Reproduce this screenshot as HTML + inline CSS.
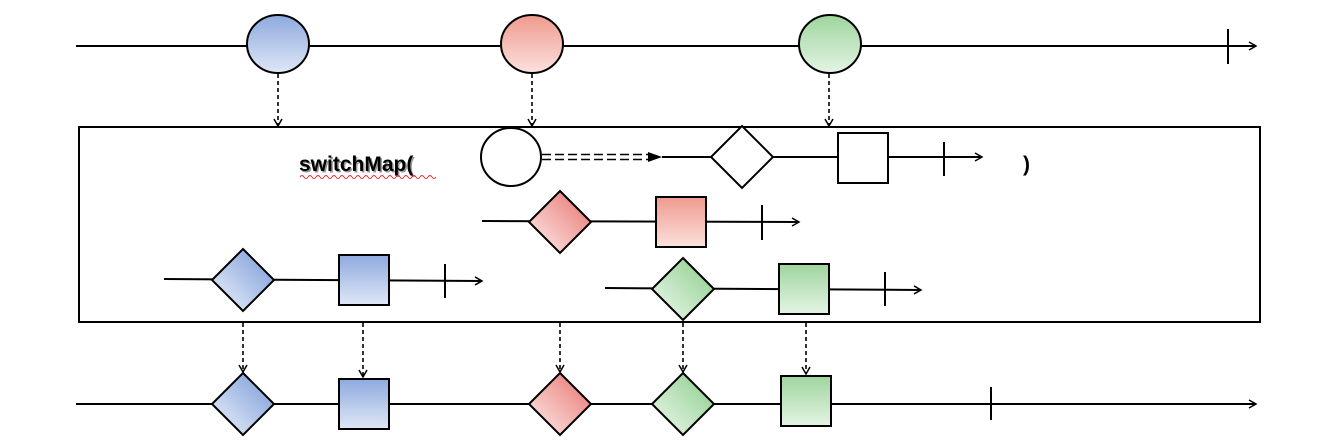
<!DOCTYPE html>
<html><head><meta charset="utf-8"><style>html,body{margin:0;padding:0;background:#fff}svg{display:block}</style></head><body>
<svg width="1336" height="448" viewBox="0 0 1336 448" xmlns="http://www.w3.org/2000/svg">
<defs>
<linearGradient id="bv" x1="0" y1="0" x2="0" y2="1"><stop offset="0" stop-color="#8eaadf"/><stop offset="1" stop-color="#dfe7f6"/></linearGradient>
<linearGradient id="rv" x1="0" y1="0" x2="0" y2="1"><stop offset="0" stop-color="#ef9a8e"/><stop offset="1" stop-color="#fbe1dd"/></linearGradient>
<linearGradient id="gv" x1="0" y1="0" x2="0" y2="1"><stop offset="0" stop-color="#9ed59e"/><stop offset="1" stop-color="#e4f4e4"/></linearGradient>
<linearGradient id="bd" x1="1" y1="0" x2="0" y2="1"><stop offset="0.2" stop-color="#8eaadf"/><stop offset="0.9" stop-color="#e3eaf7"/></linearGradient>
<linearGradient id="rd" x1="1" y1="0" x2="0" y2="1"><stop offset="0.2" stop-color="#ec8a86"/><stop offset="0.9" stop-color="#fbe3e1"/></linearGradient>
<linearGradient id="gd" x1="1" y1="0" x2="0" y2="1"><stop offset="0.2" stop-color="#9ed59e"/><stop offset="0.9" stop-color="#e6f5e6"/></linearGradient>
<marker id="ao" markerWidth="10" markerHeight="10" refX="8" refY="5" orient="auto" markerUnits="userSpaceOnUse"><path d="M1,1 L8,5 L1,9" fill="none" stroke="#000" stroke-width="1.5"/></marker>
<marker id="af" markerWidth="14" markerHeight="12" refX="12" refY="6" orient="auto" markerUnits="userSpaceOnUse"><path d="M0,1 L12,6 L0,11 Z" fill="#000"/></marker>
</defs>
<g stroke="#000" stroke-width="2" fill="none">
<!-- top line -->
<line x1="76" y1="46" x2="1256" y2="46" marker-end="url(#ao)"/>
<line x1="1228" y1="29" x2="1228" y2="64"/>
<!-- box -->
<rect x="79" y="127" width="1181" height="195" stroke-width="2"/>
<!-- bottom line -->
<line x1="76" y1="404" x2="1256" y2="404" marker-end="url(#ao)"/>
<line x1="991" y1="387" x2="991" y2="420"/>
<!-- rows lines -->
<line x1="662" y1="157" x2="982" y2="157" marker-end="url(#ao)"/>
<line x1="944" y1="142" x2="944" y2="176"/>
<line x1="482" y1="221" x2="799" y2="222" marker-end="url(#ao)"/>
<line x1="762" y1="205" x2="762" y2="240"/>
<line x1="164" y1="279" x2="482" y2="281" marker-end="url(#ao)"/>
<line x1="445" y1="264" x2="445" y2="298"/>
<line x1="605" y1="288" x2="921" y2="290" marker-end="url(#ao)"/>
<line x1="885" y1="272" x2="885" y2="306"/>
</g>
<g stroke="#000" stroke-width="1.6" stroke-dasharray="4,3" fill="none">
<line x1="278" y1="74" x2="278" y2="126" marker-end="url(#ao)"/>
<line x1="532" y1="74" x2="532" y2="126" marker-end="url(#ao)"/>
<line x1="829" y1="74" x2="829" y2="126" marker-end="url(#ao)"/>
<line x1="243" y1="323" x2="243" y2="372" marker-end="url(#ao)"/>
<line x1="363" y1="323" x2="363" y2="377" marker-end="url(#ao)"/>
<line x1="560" y1="323" x2="560" y2="372" marker-end="url(#ao)"/>
<line x1="683" y1="323" x2="683" y2="372" marker-end="url(#ao)"/>
<line x1="806" y1="323" x2="806" y2="374" marker-end="url(#ao)"/>
</g>
<!-- double dashed -->
<g stroke="#000" stroke-width="1.5" stroke-dasharray="9,4">
<line x1="542" y1="154.5" x2="648" y2="154.5"/>
<line x1="542" y1="159.5" x2="648" y2="159.5"/>
</g>
<path d="M648,152 L662,157 L648,162 Z" fill="#000"/>
<g stroke="#000" stroke-width="2">
<ellipse cx="278" cy="44" rx="31" ry="29" fill="url(#bv)"/>
<ellipse cx="532" cy="44" rx="31" ry="29" fill="url(#rv)"/>
<ellipse cx="830" cy="44" rx="31" ry="29" fill="url(#gv)"/>
<ellipse cx="511" cy="157" rx="30" ry="29" fill="#fff"/>
<path d="M742,126 L773,157 L742,188 L711,157 Z" fill="#fff"/>
<rect x="838" y="133" width="50" height="50" fill="#fff"/>
<path d="M560,191 L591,222 L560,253 L529,222 Z" fill="url(#rd)"/>
<rect x="656" y="197" width="50" height="50" fill="url(#rv)"/>
<path d="M243,249 L274,280 L243,311 L212,280 Z" fill="url(#bd)"/>
<rect x="339" y="255" width="50" height="50" fill="url(#bv)"/>
<path d="M683,258 L714,289 L683,320 L652,289 Z" fill="url(#gd)"/>
<rect x="779" y="264" width="50" height="50" fill="url(#gv)"/>
<path d="M243,373 L274,404 L243,435 L212,404 Z" fill="url(#bd)"/>
<rect x="339" y="379" width="50" height="50" fill="url(#bv)"/>
<path d="M560,373 L591,404 L560,435 L529,404 Z" fill="url(#rd)"/>
<path d="M683,373 L714,404 L683,435 L652,404 Z" fill="url(#gd)"/>
<rect x="781" y="376" width="50" height="50" fill="url(#gv)"/>
</g>
<text x="299" y="171" font-family="Liberation Sans, sans-serif" font-weight="bold" font-size="21" fill="#999" transform="translate(1.5,1.5)">switchMap(</text>
<text x="299" y="171" font-family="Liberation Sans, sans-serif" font-weight="bold" font-size="21" fill="#000">switchMap(</text>
<path d="M300,177 q2,-3 4,0 t4,0 t4,0 t4,0 t4,0 t4,0 t4,0 t4,0 t4,0 t4,0 t4,0 t4,0 t4,0 t4,0 t4,0 t4,0 t4,0 t4,0 t4,0 t4,0 t4,0 t4,0 t4,0 t4,0 t4,0 t4,0 t4,0 t4,0 t4,0 t4,0 t4,0 t4,0 t4,0 t4,0" fill="none" stroke="#e03030" stroke-width="1"/>
<text x="1023" y="171" font-family="Liberation Sans, sans-serif" font-weight="bold" font-size="21" fill="#000">)</text>
</svg>
</body></html>
